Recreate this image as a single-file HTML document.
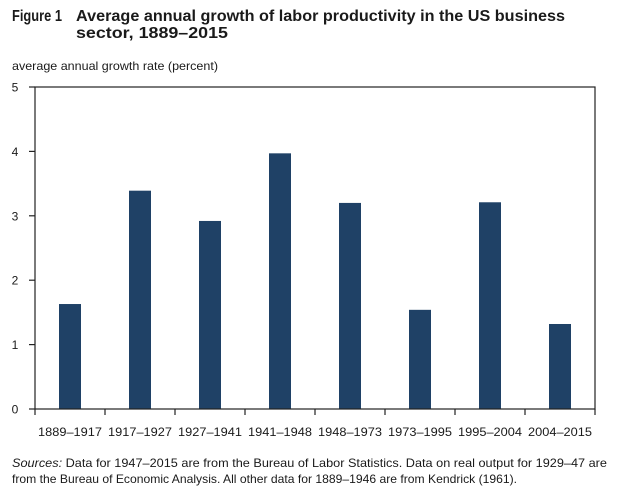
<!DOCTYPE html>
<html><head><meta charset="utf-8"><style>
html,body{margin:0;padding:0;background:#fff;}
svg{display:block;font-family:"Liberation Sans",sans-serif;}
</style></head><body>
<svg id="chart" width="618" height="495">
<g font-weight="bold" font-size="16" fill="#1a1a1a">
<text x="12" y="21" textLength="50" lengthAdjust="spacingAndGlyphs">Figure 1</text>
<text x="76" y="21" textLength="489" lengthAdjust="spacingAndGlyphs">Average annual growth of labor productivity in the US business</text>
<text x="76" y="38" textLength="152" lengthAdjust="spacingAndGlyphs">sector, 1889–2015</text>
</g>
<text x="12" y="70" font-size="12" fill="#1a1a1a" textLength="206" lengthAdjust="spacingAndGlyphs">average annual growth rate (percent)</text>
<g id="plot"></g>
<g font-size="12" fill="#1a1a1a">
<text x="12" y="467" textLength="595" lengthAdjust="spacingAndGlyphs"><tspan font-style="italic">Sources:</tspan> Data for 1947–2015 are from the Bureau of Labor Statistics. Data on real output for 1929–47 are</text>
<text x="12" y="483" textLength="505" lengthAdjust="spacingAndGlyphs">from the Bureau of Economic Analysis. All other data for 1889–1946 are from Kendrick (1961).</text>
</g>
</svg>
<script>
const categories = ["1889–1917","1917–1927","1927–1941","1941–1948","1948–1973","1973–1995","1995–2004","2004–2015"];
const values = [1.63,3.39,2.92,3.97,3.20,1.54,3.21,1.32];
const yTicks = [0,1,2,3,4,5];

const NS="http://www.w3.org/2000/svg";
const L=35,R=595,T=87,B=409,yMax=5;
const bw=(R-L)/categories.length, barW=22;
const y=v=>B-(v/yMax)*(B-T);
const xc=i=>L+bw*(i+0.5);
const g=document.getElementById('plot');
function mk(tag,attrs){const e=document.createElementNS(NS,tag);for(const k in attrs)e.setAttribute(k,attrs[k]);g.appendChild(e);return e;}

values.forEach((v,i)=>{
  const r=mk('rect',{x:xc(i)-barW/2,y:y(v),width:barW,height:B-y(v),fill:'#1f4166'});
  
  
});
const box=mk('rect',{x:L,y:T,width:R-L,height:B-T,fill:'none',stroke:'#222','stroke-width':1.2});


yTicks.forEach(t=>{
  const ln=mk('line',{x1:L-6,x2:L,y1:y(t),y2:y(t),stroke:'#222','stroke-width':1.2});
  
  
  const tx=mk('text',{x:15,y:y(t)+4.5,'text-anchor':'middle','font-size':12,fill:'#1a1a1a'});
  tx.textContent=t;
  
  
});
for(let i=0;i<=categories.length;i++){
  const ln=mk('line',{x1:L+bw*i,x2:L+bw*i,y1:B,y2:B+6,stroke:'#222','stroke-width':1.2});
  
  
}
categories.forEach((c,i)=>{
  const tx=mk('text',{x:xc(i),y:436,'text-anchor':'middle','font-size':12,fill:'#1a1a1a',textLength:64,lengthAdjust:'spacingAndGlyphs'});
  tx.textContent=c;
  
  
});
</script>
</body></html>
